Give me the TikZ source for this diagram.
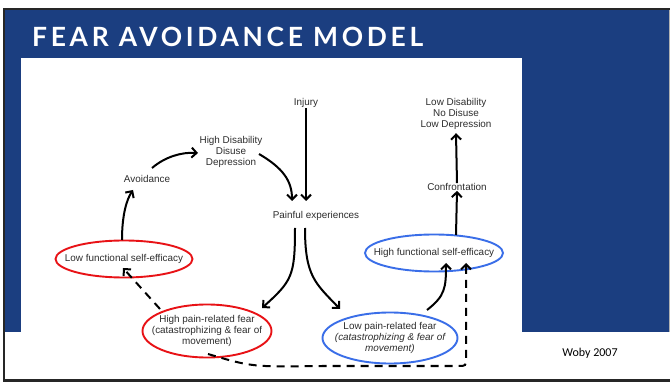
\documentclass[tikz,border=0pt]{standalone}
\usepackage{fontspec}
\setmainfont{Liberation Sans}
\newfontfamily\titlefont[LetterSpace=14]{Lato}
\newfontfamily\notefont{Carlito}
\usetikzlibrary{shapes.geometric,arrows.meta,calc}
\definecolor{slideblue}{RGB}{27,62,128}
\definecolor{fearred}{RGB}{232,18,22}
\definecolor{efficblue}{RGB}{58,110,232}
\definecolor{diaggray}{RGB}{45,45,45}
\begin{document}
\begin{tikzpicture}[x=1pt,y=-1pt,
  diagtext/.style={font=\fontsize{9.9}{11.4}\selectfont, text=diaggray, align=center, inner sep=0pt},
  redell/.style={ellipse, draw=fearred, line width=1.9pt, inner sep=0pt},
  blueell/.style={ellipse, draw=efficblue, line width=1.9pt, inner sep=0pt},
  flow/.style={line width=2pt, -{Straight Barb[length=5pt,width=10pt,line width=2pt]}},
  dashflow/.style={flow, dash pattern=on 8pt off 6pt}]
\useasboundingbox (0,0) rectangle (670,382);
% slide frame and panels
\fill[white] (0,0) rectangle (670,382);
\fill[black!85] (3,8) rectangle (670,382);
\fill[slideblue] (5,10) rectangle (670,332);
\fill[white] (5,332) rectangle (670,379);
\fill[white] (21,58) rectangle (522,332);
\fill[gray!60] (669,10) rectangle (670,332);
% title
\node[anchor=base west, text=white, inner sep=0pt] (title) at (32,47)
  {\resizebox{391pt}{\height}{\titlefont\bfseries\fontsize{26.5}{30}\selectfont FEAR AVOIDANCE MODEL}};
% plain text nodes
\node[diagtext] (injury) at (306,103) {Injury};
\node[diagtext] (hdd) at (231,152) {High Disability\\Disuse\\Depression};
\node[diagtext] (avoid) at (147,179) {Avoidance};
\node[diagtext] (painful) at (316,216) {Painful experiences};
\node[diagtext] (ldd) at (456,114) {Low Disability\\No Disuse\\Low Depression};
\node[diagtext] (confront) at (457,187) {Confrontation};
% ellipses
\node[redell, minimum width=137pt, minimum height=37pt,
  label={[diagtext]center:Low functional self-efficacy}] (lfse) at (124,259) {};
\node[redell, minimum width=129pt, minimum height=53pt,
  label={[diagtext]center:{High pain-related fear\\(catastrophizing \& fear of\\movement)}}] (hpf) at (207,331) {};
\node[blueell, minimum width=135pt, minimum height=51pt,
  label={[diagtext]center:{Low pain-related fear\\\itshape(catastrophizing \& fear of\\\itshape movement)}}] (lpf) at (390,338) {};
\node[blueell, minimum width=138pt, minimum height=37pt,
  label={[diagtext]center:High functional self-efficacy}] (hfse) at (434,253) {};
% source
\node[font=\notefont\fontsize{12}{14}\selectfont, inner sep=0pt] (src) at (590,353) {Woby 2007};
% solid arrows
\draw[flow] (injury.south) -- ($(painful)+(-10,-15)$);
\draw[flow] ($(hdd)+(28,2)$) .. controls ($(hdd)+(52,16)$) and ($(painful)+(-24,-35)$) .. ($(painful)+(-24,-15)$);
\draw[flow] ($(avoid)+(5,-11)$) .. controls ($(avoid)+(18,-22)$) and ($(hdd)+(-50,0)$) .. ($(hdd)+(-33,1)$);
\draw[flow] ($(lfse)+(-2,-19)$) .. controls ($(lfse)+(-2,-45)$) and ($(avoid)+(-20,20)$) .. ($(avoid)+(-14,11)$);
\draw[flow] ($(painful)+(-21,12)$) .. controls ($(painful)+(-21,60)$) and ($(hpf)+(85,-50)$) .. ($(hpf)+(55,-23)$);
\draw[flow] ($(painful)+(-11,12)$) .. controls ($(painful)+(-11,60)$) and ($(lpf)+(-75,-55)$) .. ($(lpf)+(-50,-29)$);
\draw[flow] ($(lpf)+(37,-28)$) .. controls ($(lpf)+(55,-42)$) and ($(hfse)+(12,35)$) .. ($(hfse)+(12,10)$);
\draw[flow] ($(hfse)+(22,-18)$) -- (confront.south);
\draw[flow] (confront.north) -- ($(ldd.south)+(0,3)$);
% dashed feedback arrows
\draw[dashflow] ($(hpf)+(-47,-22)$) -- ($(lfse)+(-1,9)$);
\draw[dashflow] ($(hpf)+(1,23)$) .. controls ($(hpf)+(45,36)$) .. ($(hpf)+(115,35)$)
  -- ($(hfse)+(24,113)$) .. controls ($(hfse)+(32,113)$) .. ($(hfse)+(32,105)$) -- ($(hfse)+(32,10)$);
\end{tikzpicture}
\end{document}
